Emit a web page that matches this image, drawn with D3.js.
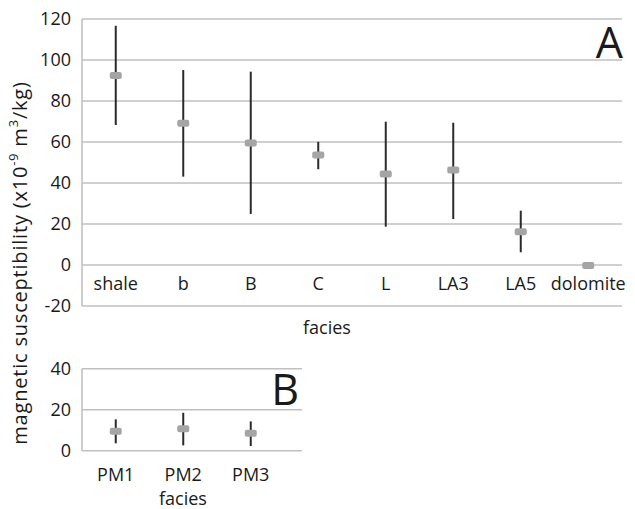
<!DOCTYPE html>
<html>
<head>
<meta charset="utf-8">
<script src="https://d3js.org/d3.v7.min.js"></script>
<style>
  body { margin:0; background:#fff; }
  text { font-family:"Open Sans", sans-serif; fill:#1a1a1a; }
</style>
</head>
<body>
<svg id="chart" width="635" height="509"></svg>
<script>
// panel A data
const faciesA = ['shale','b','B','C','L','LA3','LA5','dolomite'];
const meanA = [92.5, 69.1, 59.5, 53.7, 44.4, 46.3, 16.2, -0.3];
const lowA  = [68.3, 43.1, 24.9, 46.7, 18.7, 22.4, 6.2, null];
const highA = [116.7, 95.1, 94.3, 60.1, 69.9, 69.4, 26.5, null];
const ticksA = [-20, 0, 20, 40, 60, 80, 100, 120];

// panel B data
const faciesB = ['PM1','PM2','PM3'];
const meanB = [9.5, 10.7, 8.5];
const lowB  = [3.6, 2.6, 2.3];
const highB = [15.3, 18.5, 14.3];
const ticksB = [0, 20, 40];

const svg = d3.select('#chart');

// draws one panel
function panel(opt){
  const g = svg.append('g');
  const x = d3.scaleBand().domain(opt.cats).range([82, 82 + 67.5*opt.cats.length]).padding(0);
  const y = d3.scaleLinear().domain(opt.domain).range(opt.yrange);

  // gridlines
  g.selectAll('.grid').data(opt.ticks).enter().append('line')
    .attr('x1', 82).attr('x2', opt.right)
    .attr('y1', d => y(d)).attr('y2', d => y(d))
    .attr('stroke', '#c0c0c0').attr('stroke-width', 1.6);
  // left axis line
  g.append('line').attr('x1', 82).attr('x2', 82)
    .attr('y1', y(opt.domain[1])).attr('y2', y(opt.domain[0]))
    .attr('stroke', '#c0c0c0').attr('stroke-width', 1.6);

  // y tick labels
  g.selectAll('.yt').data(opt.ticks).enter().append('text')
    .attr('x', 71).attr('y', d => y(d)).attr('dy', '0.35em')
    .attr('text-anchor', 'end').style('font-size', '18px')
    .text(d => d);

  // x labels
  g.selectAll('.xt').data(opt.cats).enter().append('text')
    .attr('x', d => x(d) + x.bandwidth()/2).attr('y', opt.labelY)
    .attr('text-anchor', 'middle').style('font-size', '18px')
    .text(d => d);

  const pts = opt.cats.map((c, i) => ({c: c, m: opt.mean[i], lo: opt.low[i], hi: opt.high[i]}));

  // error bars
  g.selectAll('.err').data(pts.filter(d => d.lo != null)).enter().append('line')
    .attr('x1', d => x(d.c) + x.bandwidth()/2).attr('x2', d => x(d.c) + x.bandwidth()/2)
    .attr('y1', d => y(d.hi)).attr('y2', d => y(d.lo))
    .attr('stroke', '#2a2a2a').attr('stroke-width', 2);

  // mean markers
  g.selectAll('.mk').data(pts).enter().append('rect')
    .attr('x', d => x(d.c) + x.bandwidth()/2 - 6).attr('y', d => y(d.m) - 3.5)
    .attr('width', 12).attr('height', 7).attr('rx', 2)
    .attr('fill', '#a5a5a5');

  // panel letter
  g.append('text').attr('x', opt.letterX).attr('y', opt.letterY)
    .attr('text-anchor', 'end').style('font-size', '43px')
    .text(opt.letter);

  // x title
  g.append('text').attr('x', opt.titleX).attr('y', opt.titleY)
    .attr('text-anchor', 'middle').style('font-size', '18px')
    .text('facies');
}

panel({cats: faciesA, mean: meanA, low: lowA, high: highA, ticks: ticksA,
  domain: [-20, 120], yrange: [306, 19], right: 622, labelY: 290,
  letter: 'A', letterX: 623, letterY: 58, titleX: 327, titleY: 334});

panel({cats: faciesB, mean: meanB, low: lowB, high: highB, ticks: ticksB,
  domain: [0, 40], yrange: [450.7, 368.7], right: 302, labelY: 481,
  letter: 'B', letterX: 299, letterY: 405, titleX: 183, titleY: 505});

// y axis title
const yl = svg.append('text')
  .attr('transform', 'translate(27,263) rotate(-90)')
  .attr('text-anchor', 'middle').style('font-size', '20px')
  .style('letter-spacing', '0.8px');
yl.append('tspan').text('magnetic susceptibility (x10');
yl.append('tspan').attr('baseline-shift', 'super').style('font-size', '13px').text('-9');
yl.append('tspan').text(' m');
yl.append('tspan').attr('baseline-shift', 'super').style('font-size', '13px').text('3');
yl.append('tspan').text('/kg)');
</script>
</body>
</html>
